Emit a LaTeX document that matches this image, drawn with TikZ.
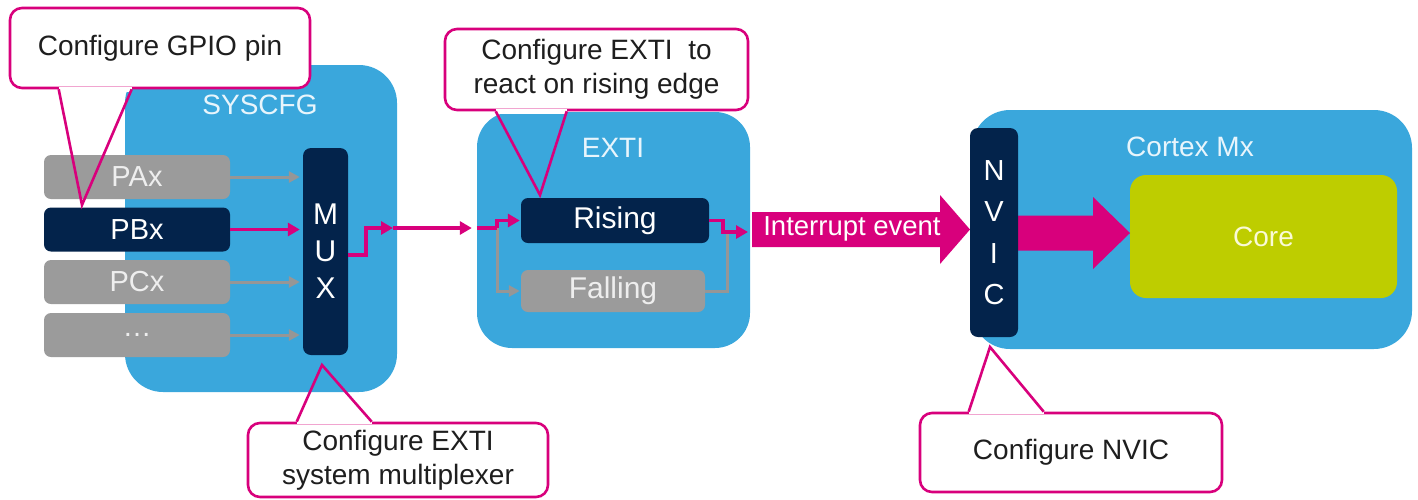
\documentclass[tikz,border=0pt]{standalone}
\usepackage{fontspec}
\setmainfont{Liberation Sans}
\usetikzlibrary{arrows.meta,calc}

\definecolor{panelblue}{RGB}{58,167,220}
\definecolor{navy}{RGB}{3,35,75}
\definecolor{pingray}{RGB}{155,155,155}
\definecolor{wiregray}{RGB}{150,150,150}
\definecolor{mg}{RGB}{216,0,124}
\definecolor{lime}{RGB}{190,205,0}
\definecolor{labelwhite}{RGB}{232,245,252}
\definecolor{pintext}{RGB}{238,238,238}
\definecolor{calltext}{RGB}{30,30,30}
\definecolor{coretext}{RGB}{250,250,215}

\begin{document}
\begin{tikzpicture}[x=1pt,y=-1pt,
  panel/.style={fill=panelblue, rounded corners=38pt, inner sep=0pt},
  paneltitle/.style={text=labelwhite, font=\fontsize{28}{32}\selectfont, inner sep=0pt},
  pinbox/.style={rounded corners=7pt, inner sep=0pt, minimum width=186pt,
    minimum height=44pt, fill=pingray, text=pintext, font=\fontsize{29}{34}\selectfont},
  selbox/.style={pinbox, fill=navy, text=white},
  barbox/.style={fill=navy, rounded corners=8pt, inner sep=0pt, text=white, align=center},
  edgebox/.style={rounded corners=7pt, inner sep=0pt, minimum width=186pt,
    minimum height=44pt, font=\fontsize{30}{34}\selectfont},
  callbox/.style={fill=white, draw=mg, line width=2.6pt, rounded corners=12pt,
    inner sep=0pt, align=center, text=calltext, font=\fontsize{28}{34}\selectfont},
  callptr/.style={draw=mg, line width=2.6pt, line join=miter},
  erase/.style={draw=white, line width=4.5pt},
  grayline/.style={draw=wiregray, line width=3pt},
  grayarrow/.style={grayline, -{Triangle[length=11pt,width=11pt]}},
  mgline/.style={draw=mg, line width=3.5pt},
  mgarrow/.style={mgline, -{Triangle[length=12pt,width=13pt]}},
  bigarrow/.style={fill=mg}
]
\useasboundingbox (0,0) rectangle (1418,499);

% ---------- container panels ----------
\node[panel, minimum width=272pt, minimum height=327pt] (syscfg) at (261,228.5) {};
\node[paneltitle] (syscfgtitle) at (260,105) {SYSCFG};

\node[panel, rounded corners=35pt, minimum width=273pt, minimum height=236pt] (exti) at (613.5,230) {};
\node[paneltitle] (extititle) at (613,148) {EXTI};

\node[panel, minimum width=440pt, minimum height=239pt] (cortex) at (1192,229.5) {};
\node[paneltitle] (cortextitle) at (1190,147) {Cortex Mx};

% ---------- GPIO ports ----------
\node[pinbox] (pa) at (137,177) {PAx};
\node[selbox] (pb) at (137,229.5) {PBx};
\node[pinbox] (pc) at (137,282) {PCx};
\node[pinbox] (pd) at (137,335) {\dots};

% ---------- multiplexer ----------
\node[barbox, minimum width=45pt, minimum height=207pt,
      font=\fontsize{30}{37}\selectfont] (mux) at (325.5,251.5) {M\\U\\X};

% port lines into the multiplexer
\draw[grayarrow, shorten >=3pt] (pa.east) -- (pa.east -| mux.west);
\draw[grayarrow, shorten >=3pt] (pc.east) -- (pc.east -| mux.west);
\draw[grayarrow, shorten >=3pt] (pd.east) -- (pd.east -| mux.west);
\draw[mgarrow, shorten >=3pt] (pb.east) -- (pb.east -| mux.west);

% multiplexer output towards EXTI
\coordinate (muxout) at (348,255);
\coordinate (muxmid) at (393,228);
\draw[mgarrow] (muxout) -| (366,228) -- (muxmid);
\draw[mgarrow, shorten >=5pt] (muxmid) -- (muxmid -| exti.west);

% ---------- edge detectors ----------
\node[edgebox, fill=navy, text=white, minimum width=188pt, minimum height=45pt] (rising) at (615,220.5) {Rising};
\node[edgebox, fill=pingray, text=pintext, minimum width=184pt, minimum height=42pt] (falling) at (613,291) {Falling};

\coordinate (split) at (497,228);
\draw[grayarrow, shorten >=1pt] (split) |- (falling.west);
\draw[grayline] (falling.east) -| (727,232);
\draw[mgline] (split -| exti.west) -- (split);
\draw[mgarrow, shorten >=1pt] (split) -- (497,220.5) -- (rising.west);
\draw[mgarrow] (rising.east) -| (723,232) -- (748,232);

% ---------- interrupt event arrow ----------
\fill[bigarrow] (752,212) -- (940,212) -- (940,195) -- (970,229.5)
  -- (940,264) -- (940,247) -- (752,247) -- cycle;
\node[text=white, font=\fontsize{27.5}{32}\selectfont, inner sep=0pt] (irq) at (852,229) {Interrupt event};

% ---------- core ----------
\node[fill=lime, rounded corners=16pt, minimum width=267pt, minimum height=123pt,
      inner sep=0pt, text=coretext, font=\fontsize{28}{32}\selectfont] (core) at (1263.5,236.5) {Core};
\fill[bigarrow] (1018,215.5) -- (1093,215.5) -- (1093,197) -- (1130,233)
  -- (1093,269) -- (1093,250.5) -- (1018,250.5) -- cycle;

% ---------- NVIC ----------
\node[barbox, minimum width=48pt, minimum height=209pt,
      font=\fontsize{29}{41.5}\selectfont] (nvic) at (994,232.5) {N\\V\\I\\C};

% ---------- callouts ----------
\node[callbox, minimum width=300pt, minimum height=80pt] (c1) at (160,48) {Configure GPIO pin};
\coordinate (t1) at (82,205);
\draw[erase] ([xshift=50pt]c1.south west) -- ([xshift=123pt]c1.south west);
\draw[callptr] ([xshift=50pt]c1.south west) -- (t1) -- ([xshift=123pt]c1.south west);

\node[callbox, minimum width=303pt, minimum height=81pt] (c2) at (596.5,69.5) {Configure EXTI\ \ to\\react on rising edge};
\coordinate (t2) at (540,195);
\draw[erase] ([xshift=52pt]c2.south west) -- ([xshift=123pt]c2.south west);
\draw[callptr] ([xshift=52pt]c2.south west) -- (t2) -- ([xshift=123pt]c2.south west);

\node[callbox, minimum width=300pt, minimum height=74pt] (c3) at (398,460) {Configure EXTI\\system multiplexer};
\coordinate (t3) at (322,365);
\draw[erase] ([xshift=50pt]c3.north west) -- ([xshift=125pt]c3.north west);
\draw[callptr] ([xshift=50pt]c3.north west) -- (t3) -- ([xshift=125pt]c3.north west);

\node[callbox, minimum width=302pt, minimum height=79pt] (c4) at (1071,452.5) {Configure NVIC};
\coordinate (t4) at (990,347);
\draw[erase] ([xshift=50pt]c4.north west) -- ([xshift=125pt]c4.north west);
\draw[callptr] ([xshift=50pt]c4.north west) -- (t4) -- ([xshift=125pt]c4.north west);
\end{tikzpicture}
\end{document}
